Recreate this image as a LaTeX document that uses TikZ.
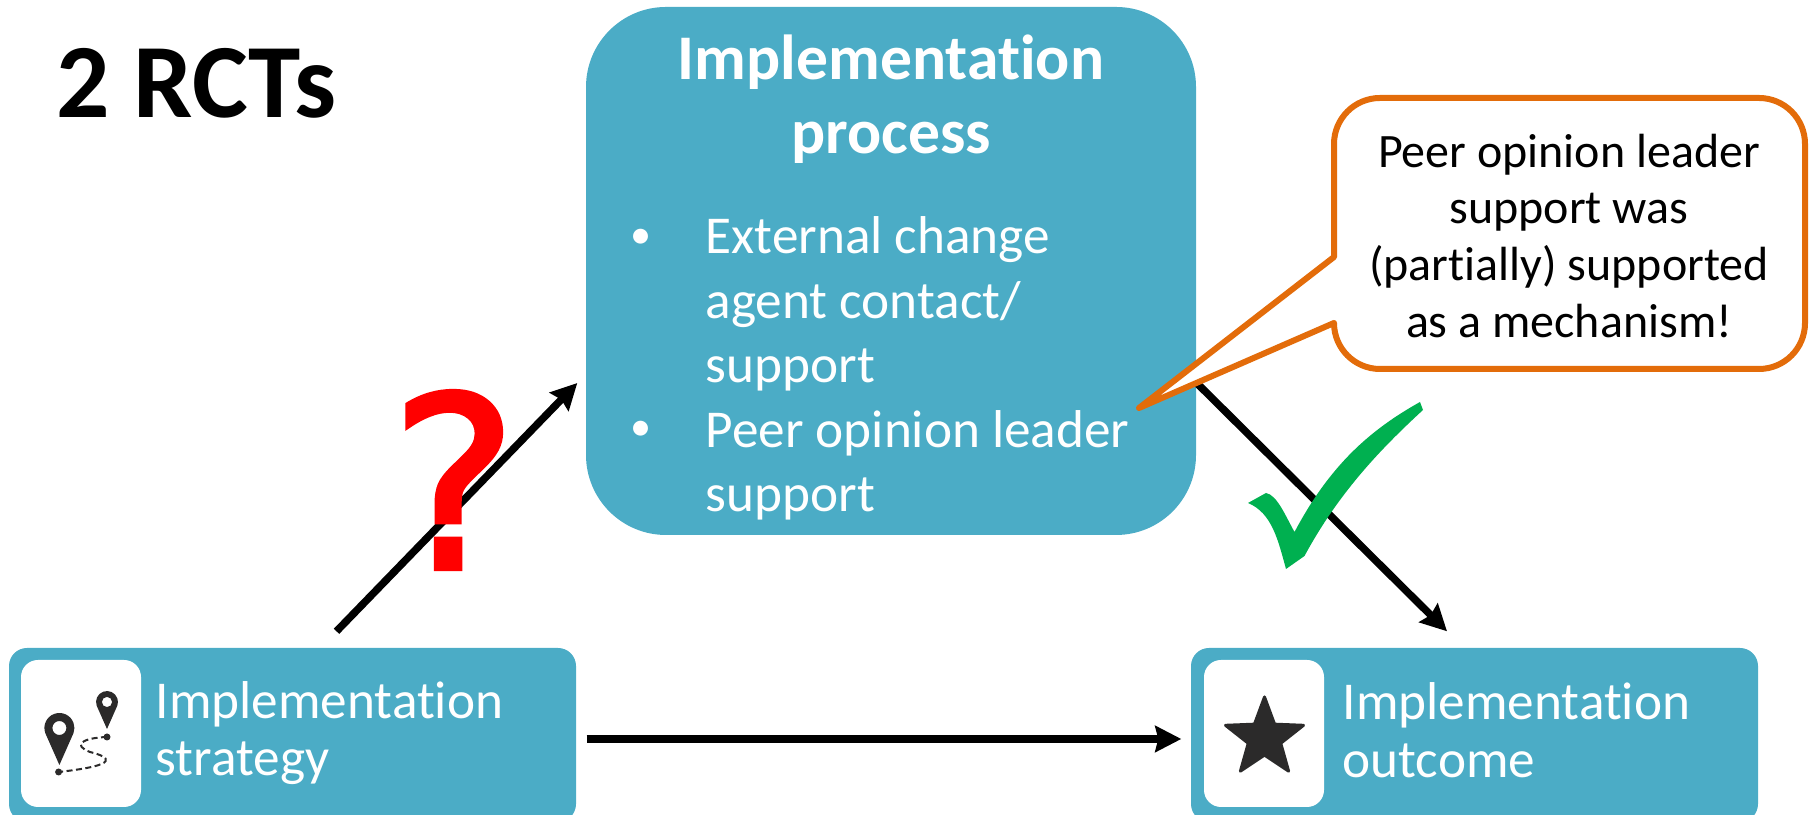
\documentclass[tikz,border=0pt]{standalone}
\usepackage{fontspec}
\setmainfont{Carlito}[Ligatures=NoCommon]
\newfontfamily\markfont{DejaVu Sans}[FakeBold=2]
\usetikzlibrary{arrows.meta,shapes.geometric}
\definecolor{BoxTeal}{HTML}{4BACC6}
\definecolor{CalloutOrange}{HTML}{E36C0A}
\definecolor{CheckGreen}{HTML}{00B050}
\definecolor{IconInk}{HTML}{2B2A2A}
\tikzset{
  TealBox/.style={draw=none,fill=BoxTeal,rounded corners=.18cm,minimum width=5.67cm,minimum height=1.74cm,inner sep=0pt},
  IconBox/.style={draw=none,fill=white,rounded corners=.17cm,minimum width=1.20cm,minimum height=1.47cm,inner sep=0pt},
  BoxText/.style={text=white,anchor=west,align=left,inner sep=0pt,font=\fontsize{15.15}{16.4}\selectfont},
  ListText/.style={text=white,anchor=west,align=left,inner sep=0pt,font=\fontsize{15.15}{18.3}\selectfont},
  ListBullet/.style={text=white,inner sep=0pt,font=\fontsize{12}{14}\selectfont},
  Link/.style={line width=.075cm,-{Stealth[length=.26cm,width=.26cm,inset=.03cm]}},
  MapPin/.pic={
    \fill[IconInk,even odd rule](0,-.37)--(200:.15)arc(200:-20:.15)--cycle(0,0)circle(.07);
  }
}
\begin{document}
\begin{tikzpicture}
       \clip(0,0)rectangle(18.10,8.15);
       \node[TealBox,minimum width=6.10cm,minimum height=5.28cm,rounded corners=.80cm](ProcessBox)at(8.91,5.44){};
       \node[TealBox](StrategyBox)at(2.925,.80){};
       \node[TealBox](OutcomeBox)at(14.745,.80){};
       \node[IconBox](StrategyIcon)at(.81,.815){};
       \node[IconBox](OutcomeIcon)at(12.64,.815){};
       \node[BoxText](StrategyText)at(1.55,.82){Implementation\\strategy};
       \node[BoxText](OutcomeText)at(13.42,.85){Implementation\\outcome};
       \node[anchor=base west,inner sep=0pt,font=\fontsize{30}{35}\selectfont\bfseries](Title)at(.56,6.97){2 RCTs};
       \node[text=white,align=center,inner sep=0pt,font=\fontsize{18.1}{21}\selectfont\bfseries](ProcessTitle)at(8.91,7.16){Implementation\\process};
       \node[ListBullet](BulletOne)at(6.41,5.76){•};
       \node[ListBullet](BulletTwo)at(6.41,3.84){•};
       \node[ListText](ChangeAgent)at(7.05,5.11){External change\\agent contact/\\support};
       \node[ListText](PeerLeader)at(7.05,3.50){Peer opinion leader\\support};
       \draw[Link]([xshift=.44cm,yshift=.16cm]StrategyBox.north)--([xshift=-.08cm,yshift=-1.12cm]ProcessBox.west);
       \draw[Link]([yshift=-1.12cm]ProcessBox.east)--([xshift=-.275cm,yshift=.16cm]OutcomeBox.north);
       \draw[Link]([xshift=.10cm,yshift=-.04cm]StrategyBox.east)--([xshift=-.09cm,yshift=-.04cm]OutcomeBox.west);
       \coordinate(TailTip)at(11.39,4.07);
       \coordinate(TailTop)at(13.34,5.58);
       \coordinate(TailBottom)at(13.34,4.92);
       \coordinate(CalloutTopLeft)at(13.34,7.17);
       \coordinate(CalloutTopRight)at(18.05,7.17);
       \coordinate(CalloutBottomRight)at(18.05,4.46);
       \coordinate(CalloutBottomLeft)at(13.34,4.46);
       \filldraw[draw=CalloutOrange,fill=white,line width=.06cm,line join=round](TailTip)--(TailTop)[rounded corners=.46cm]--(CalloutTopLeft)--(CalloutTopRight)--(CalloutBottomRight)--(CalloutBottomLeft)[sharp corners]--(TailBottom)--cycle;
       \node[align=center,inner sep=0pt,font=\fontsize{13.65}{16.2}\selectfont](CalloutText)at(15.69,5.79){Peer opinion leader\\support was\\(partially) supported\\as a mechanism!};
       \node[text=red,inner sep=0pt,font=\markfont\fontsize{68}{80}\selectfont](QuestionMark)at(4.54,3.35){?};
       \fill[CheckGreen](12.48,3.12)--(12.66,3.22)..controls(12.77,3.2)and(12.85,3.0)..(12.945,2.83)..controls(13.3,3.5)and(13.7,3.85)..(14.20,4.13)--(14.23,4.05)..controls(13.85,3.7)and(13.4,3.25)..(13.045,2.59)--(12.86,2.46)..controls(12.78,2.75)and(12.72,3.02)..(12.48,3.12)--cycle;
       \pic at(.594,.87){MapPin};
       \pic[scale=.73]at(1.07,1.13){MapPin};
       \fill[IconInk](.586,.43)circle(.035);
       \fill[IconInk](1.07,.78)circle(.035);
       \draw[IconInk,line width=.02cm,dashed,dash pattern=on .06cm off .035cm](1.07,.78)..controls(.82,.77)and(.72,.70)..(.90,.63)..controls(1.10,.58)and(1.22,.50)..(.586,.43);
       \node[star,star points=5,star point ratio=2.4,fill=IconInk,draw=IconInk,line width=.03cm,line join=round,inner sep=0pt,minimum size=.82cm](OutcomeStar)at(12.645,.77){};
      \end{tikzpicture}
\end{document}
